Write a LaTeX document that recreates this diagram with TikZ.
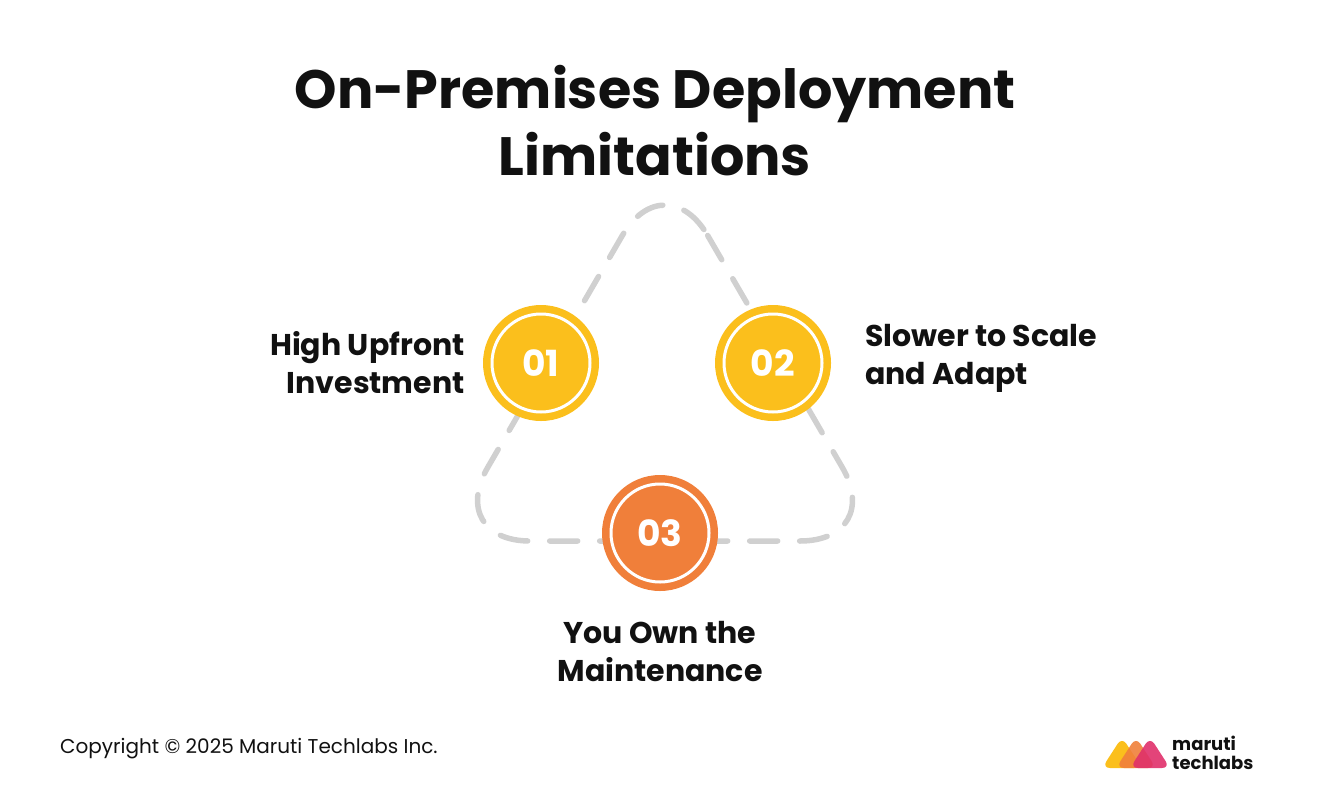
\documentclass[tikz,border=0pt]{standalone}
\usepackage{fontspec}
\setmainfont{Poppins}
\usetikzlibrary{positioning}
\definecolor{gold}{HTML}{FBBF1C}
\definecolor{tangerine}{HTML}{F07F3A}
\definecolor{dashgray}{HTML}{D0D0D0}
\definecolor{inkblack}{HTML}{111111}
\definecolor{rose}{HTML}{E0306A}
\definecolor{plum}{HTML}{B8286A}
\tikzset{
  badge/.style={circle, fill=#1, minimum size=116pt, inner sep=0pt, text=white,
    font=\fontsize{36}{36}\selectfont\bfseries,
    path picture={\draw[white, line width=3pt] (path picture bounding box.center) circle (49pt);}},
  label/.style={text=inkblack, font=\fontsize{30}{38}\selectfont\bfseries, inner sep=0pt},
}
\begin{document}
\begin{tikzpicture}[x=1pt,y=-1pt]
\useasboundingbox (0,0) rectangle (1321,798);
\node[text=inkblack, font=\fontsize{54}{67}\selectfont\bfseries, align=center] (title) at (655,121)
  {On-Premises Deployment\\Limitations};
% dashed loop
\draw[dashgray, line width=5.5pt, line cap=round, dash pattern=on 28pt off 22pt, rounded corners=85pt]
  (665,162) -- (885,541) -- (445,541) -- cycle;
\node[badge=gold] (one) at (541,363) {01};
\node[badge=gold] (two) at (773,363) {02};
\node[badge=tangerine] (three) at (660,533) {03};
\node[label, align=right, left=18pt of one] (lone) {High Upfront\\Investment};
\node[label, align=left, anchor=west] (ltwo) at (865,358) {Slower to Scale\\and Adapt};
\node[label, align=center, below=30pt of three] (lthree) {You Own the\\Maintenance};
\node[anchor=west, text=inkblack, font=\fontsize{20}{22}\selectfont, inner sep=0pt] (copy) at (60,749)
  {Copyright © 2025 Maruti Techlabs Inc.};
% logo
\fill[gold, rounded corners=8pt] (1102,768) -- (1122,737) -- (1142,768) -- cycle;
\fill[tangerine, opacity=.9, rounded corners=8pt] (1116,768) -- (1136,737) -- (1156,768) -- cycle;
\fill[rose, opacity=.9, rounded corners=8pt] (1130,768) -- (1150,737) -- (1170,768) -- cycle;
\node[anchor=west, text=inkblack, font=\fontsize{18}{19}\selectfont\bfseries, align=left, inner sep=0pt] (logo) at (1172,753)
  {maruti\\techlabs};
\end{tikzpicture}
\end{document}
